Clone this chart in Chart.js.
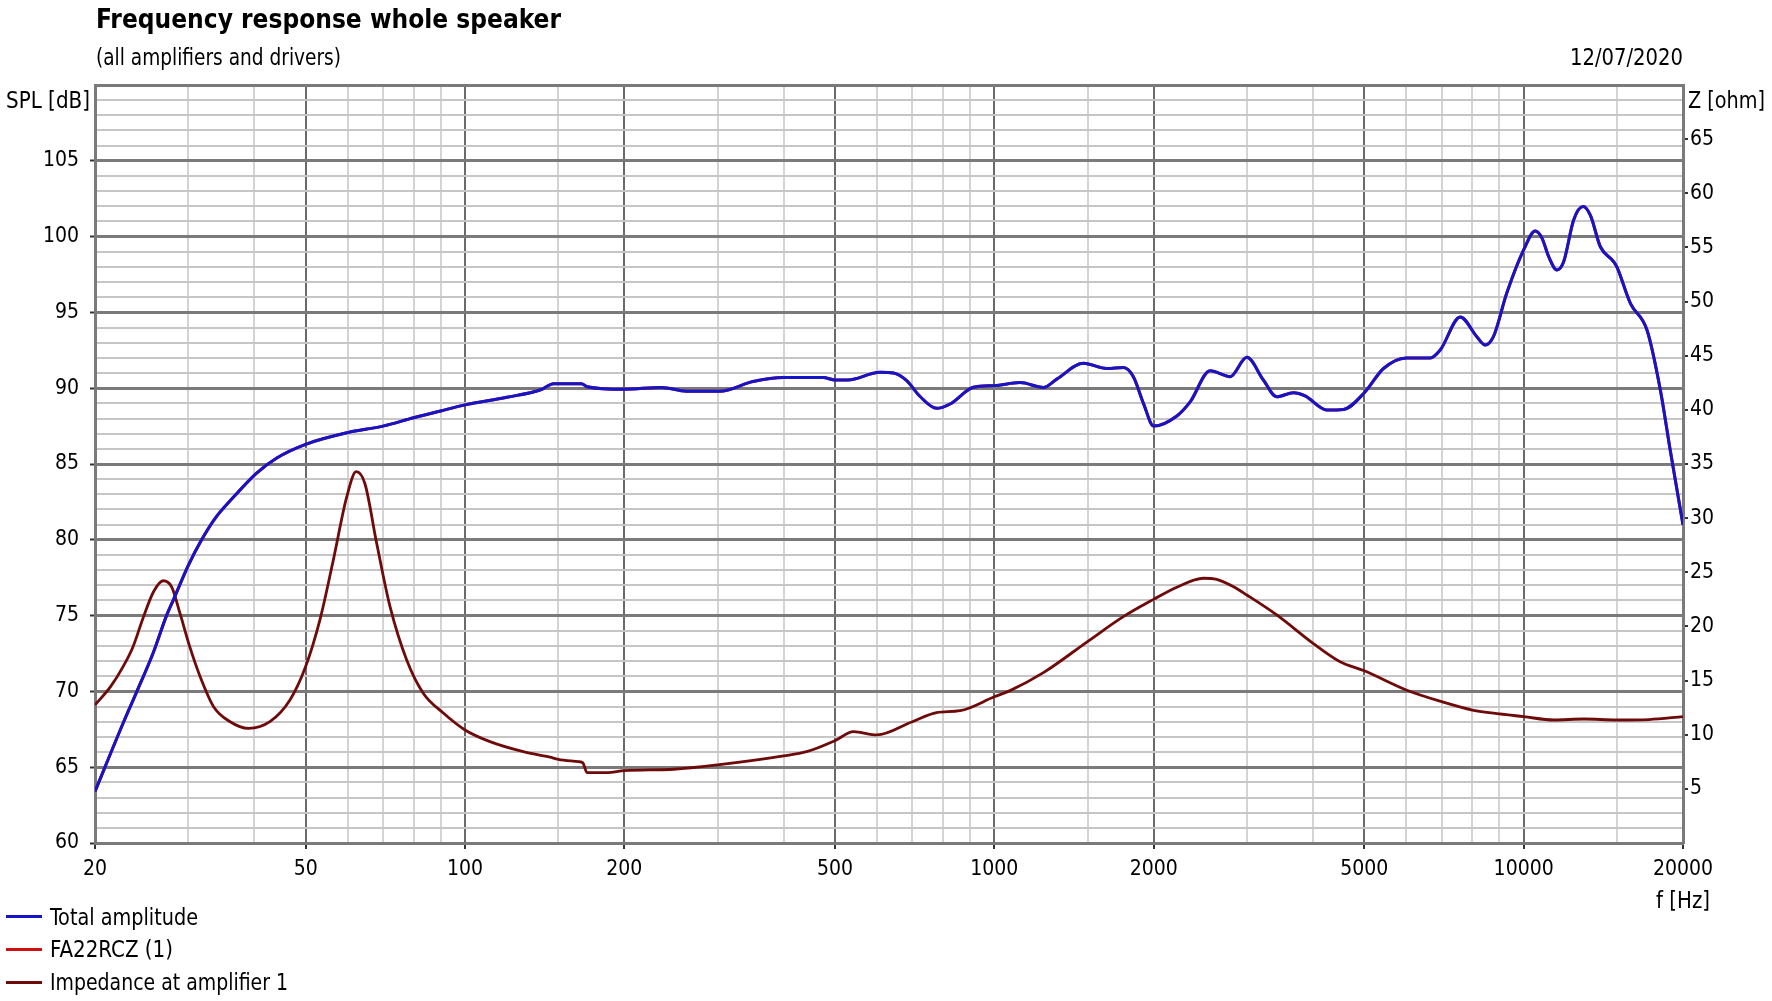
<!DOCTYPE html>
<html><head><meta charset="utf-8">
<script src="https://cdn.jsdelivr.net/npm/chart.js@4.4.1/dist/chart.umd.min.js"></script>
<style>
html,body{margin:0;padding:0;background:#fff;}
#wrap{position:relative;width:1772px;height:1001px;overflow:hidden;background:#fff;}
canvas{position:absolute;left:0;top:0;}
.fit{position:absolute;white-space:nowrap;line-height:1;font-family:'DejaVu Sans Condensed','DejaVu Sans',sans-serif;color:#000;transform-origin:0 50%;}
.leg{position:absolute;height:3px;}
</style></head><body>
<div id="wrap">
<canvas id="c" width="1772" height="1001"></canvas>
<div class="fit" data-l="96" data-r="561" data-cy="19" style="font-size:26px;font-weight:bold">Frequency response whole speaker</div>
<div class="fit" data-l="96" data-r="341" data-cy="57" style="font-size:23px">(all amplifiers and drivers)</div>
<div class="fit" data-l="1570" data-r="1683" data-cy="57" style="font-size:23px">12/07/2020</div>
<div class="fit" data-l="6" data-r="90" data-cy="100" style="font-size:23px">SPL [dB]</div>
<div class="fit" data-l="1688" data-r="1765" data-cy="100" style="font-size:23px">Z [ohm]</div>
<div class="fit" data-l="1656" data-r="1710" data-cy="900" style="font-size:23px">f [Hz]</div>
<div class="leg" style="left:6px;top:915px;width:36px;background:#1414c8"></div>
<div class="leg" style="left:6px;top:948px;width:36px;background:#d01010"></div>
<div class="leg" style="left:6px;top:981px;width:36px;background:#6e0a0a"></div>
<div class="fit" data-l="50" data-r="198" data-cy="917" style="font-size:23px">Total amplitude</div>
<div class="fit" data-l="50" data-r="173" data-cy="949" style="font-size:23px">FA22RCZ (1)</div>
<div class="fit" data-l="50" data-r="288" data-cy="982" style="font-size:23px">Impedance at amplifier 1</div>
</div>
<script>
// ---- data ----
const splFreq = [20,22.6,24,25.8,27.3,28.1,30,31.8,33.7,36.5,40.4,44.1,50,60,70,80,90,100,120,139,147,166,170,200,235,262,303,350,400,475,500,529,608,645,683,724,778,825,913,1000,1118,1238,1312,1473,1631,1753,1831,1913,2000,2212,2344,2557,2789,3000,3223,3416,3672,3864,4246,4566,5000,5435,6000,6660,6956,7590,8157,8459,8767,9289,10000,10520,10830,11150,11560,11900,12430,12950,13370,13960,14800,15000,15910,17100,18120,18920,20000];
const splDb = [63.4,67.9,70.0,72.6,75.0,76.0,78.3,80.0,81.4,82.8,84.4,85.4,86.3,87.07,87.5,88.05,88.5,88.9,89.4,89.9,90.3,90.3,90.1,89.93,90.05,89.8,89.8,90.44,90.7,90.7,90.54,90.54,91.05,91.0,90.5,89.45,88.67,88.96,90.06,90.17,90.37,90.05,90.6,91.64,91.3,91.37,90.76,89.0,87.5,88.17,89.1,91.15,90.76,92.04,90.54,89.44,89.7,89.49,88.56,88.6,89.7,91.3,92.0,92.0,92.52,94.7,93.4,92.85,93.4,96.26,99.12,100.37,99.9,98.68,97.8,98.34,101.1,101.98,101.4,99.33,98.34,98.0,95.6,93.84,89.9,85.9,81.0];
const impFreq = [20,21.4,22.6,23.6,24.7,25.8,26.9,27.9,28.95,30.2,31.6,33.5,36,39,42.8,46.7,50,53.2,56.4,59.8,62.3,64.7,68.1,72.2,77.6,83.4,91,100,111.5,128.9,144.7,150,164,167,170,185,200,248,300,400,442,500,542,600,700,778,862,1000,1071,1238,1500,1753,2000,2212,2483,2630,2830,3000,3416,4000,4500,5000,6000,7000,8000,9000,10000,11400,13000,15000,17250,20000];
const impOhm = [12.75,14.44,16.29,18.13,20.9,23.2,24.22,23.67,21.2,18.13,15.36,12.59,11.2,10.59,11.2,13.2,16.29,20.6,26.14,31.98,34.29,33.2,27.68,21.8,16.9,13.83,12.0,10.44,9.36,8.43,7.92,7.73,7.51,7.4,6.5,6.5,6.68,6.81,7.21,8.04,8.43,9.45,10.28,9.98,11.2,12.04,12.22,13.5,14.07,15.73,18.6,20.9,22.5,23.62,24.45,24.35,23.67,22.9,21.06,18.44,16.74,15.9,14.13,13.05,12.28,11.92,11.67,11.36,11.45,11.36,11.4,11.67];
// driver FA22RCZ (1) is the only driver, its SPL equals the total amplitude
const driverDb = splDb.slice();

const xLabelValues = [20,50,100,200,500,1000,2000,5000,10000,20000];
const xTickLabels = ['20','50','100','200','500','1000','2000','5000','10000','20000'];
const xMinorValues = [30,40,60,70,80,90,150,300,400,600,700,800,900,1500,3000,4000,6000,7000,8000,9000,15000];
const yLeftLabels = [60,65,70,75,80,85,90,95,100,105];
const yRightLabels = [5,10,15,20,25,30,35,40,45,50,55,60,65];
const seriesNames = ['Total amplitude','FA22RCZ (1)','Impedance at amplifier 1'];

// ---- text fitting ----
document.querySelectorAll('.fit').forEach(el => {
  const L = +el.dataset.l, R = +el.dataset.r, cy = +el.dataset.cy;
  const w = el.getBoundingClientRect().width;
  const size = parseFloat(getComputedStyle(el).fontSize);
  el.style.left = L + 'px';
  el.style.top = (cy - 0.5 * size) + 'px';
  el.style.transform = 'scaleX(' + ((R - L) / w) + ')';
});

const toPts = (xs, ys) => xs.map((x, i) => ({x: x, y: ys[i]}));
const FONT = {family: "'DejaVu Sans Condensed','DejaVu Sans',sans-serif", size: 21};
const MAJ_H = '#7a7a7a', MIN_H = '#c6c6c6', MAJ_V = '#6a6a6a', MIN_V = '#d4d4d4';

new Chart(document.getElementById('c'), {
  type: 'line',
  data: {
    datasets: [
      {label: seriesNames[1], data: toPts(splFreq, driverDb), borderColor: '#d01010', yAxisID: 'y', order: 3, borderWidth: 3},
      {label: seriesNames[2], data: toPts(impFreq, impOhm), borderColor: '#6e0a0a', yAxisID: 'y2', order: 2, borderWidth: 2.8},
      {label: seriesNames[0], data: toPts(splFreq, splDb), borderColor: '#1414c8', yAxisID: 'y', order: 1, borderWidth: 3}
    ]
  },
  options: {
    responsive: false,
    animation: false,
    devicePixelRatio: 1,
    plugins: {legend: {display: false}, title: {display: false}, tooltip: {enabled: false}},
    elements: {point: {radius: 0}, line: {cubicInterpolationMode: 'monotone', fill: false}},
    layout: {padding: {top: 85, left: 0, right: 0, bottom: 0}},
    scales: {
      x: {
        type: 'logarithmic', min: 20, max: 20000,
        afterBuildTicks: s => { s.ticks = xLabelValues.concat(xMinorValues).sort((a,b)=>a-b).map(v => ({value: v})); },
        afterFit: s => { s.height = 158; },
        ticks: {autoSkip: false, maxRotation: 0, minRotation: 0, padding: 8, color: '#000', font: FONT,
          callback: v => { const i = xLabelValues.indexOf(v); return i >= 0 ? xTickLabels[i] : ''; }},
        grid: {
          color: c => xLabelValues.includes(c.tick && c.tick.value) ? MAJ_V : MIN_V,
          lineWidth: 2, tickLength: 6,
          tickColor: c => xLabelValues.includes(c.tick && c.tick.value) ? '#333' : 'rgba(0,0,0,0)', tickWidth: 2
        },
        border: {color: MAJ_H, width: 3}
      },
      y: {
        position: 'left', min: 60, max: 110,
        afterBuildTicks: s => { const t = []; for (let v = 60; v <= 110; v++) t.push({value: v}); s.ticks = t; },
        afterFit: s => { s.width = 95; },
        ticks: {autoSkip: false, padding: 11, color: '#000', font: FONT,
          callback: v => yLeftLabels.includes(v) ? String(v) : ''},
        grid: {
          color: c => (c.tick && c.tick.value % 5 === 0) ? MAJ_H : MIN_H,
          lineWidth: c => (c.tick && c.tick.value % 5 === 0) ? 3 : 2,
          tickLength: 5,
          tickColor: c => yLeftLabels.includes(c.tick && c.tick.value) ? '#333' : 'rgba(0,0,0,0)', tickWidth: 2
        },
        border: {color: MAJ_H, width: 3}
      },
      y2: {
        position: 'right', min: 0, max: 70,
        afterBuildTicks: s => { const t = []; for (let v = 0; v <= 70; v += 5) t.push({value: v}); s.ticks = t; },
        afterFit: s => { s.width = 89; },
        ticks: {autoSkip: false, padding: 2, color: '#000', font: FONT,
          callback: v => yRightLabels.includes(v) ? String(v) : ''},
        grid: {drawOnChartArea: false, tickLength: 5,
          color: c => yRightLabels.includes(c.tick && c.tick.value) ? '#333' : 'rgba(0,0,0,0)', lineWidth: 2},
        border: {color: MAJ_H, width: 3}
      }
    }
  }
});
</script>
</body></html>
